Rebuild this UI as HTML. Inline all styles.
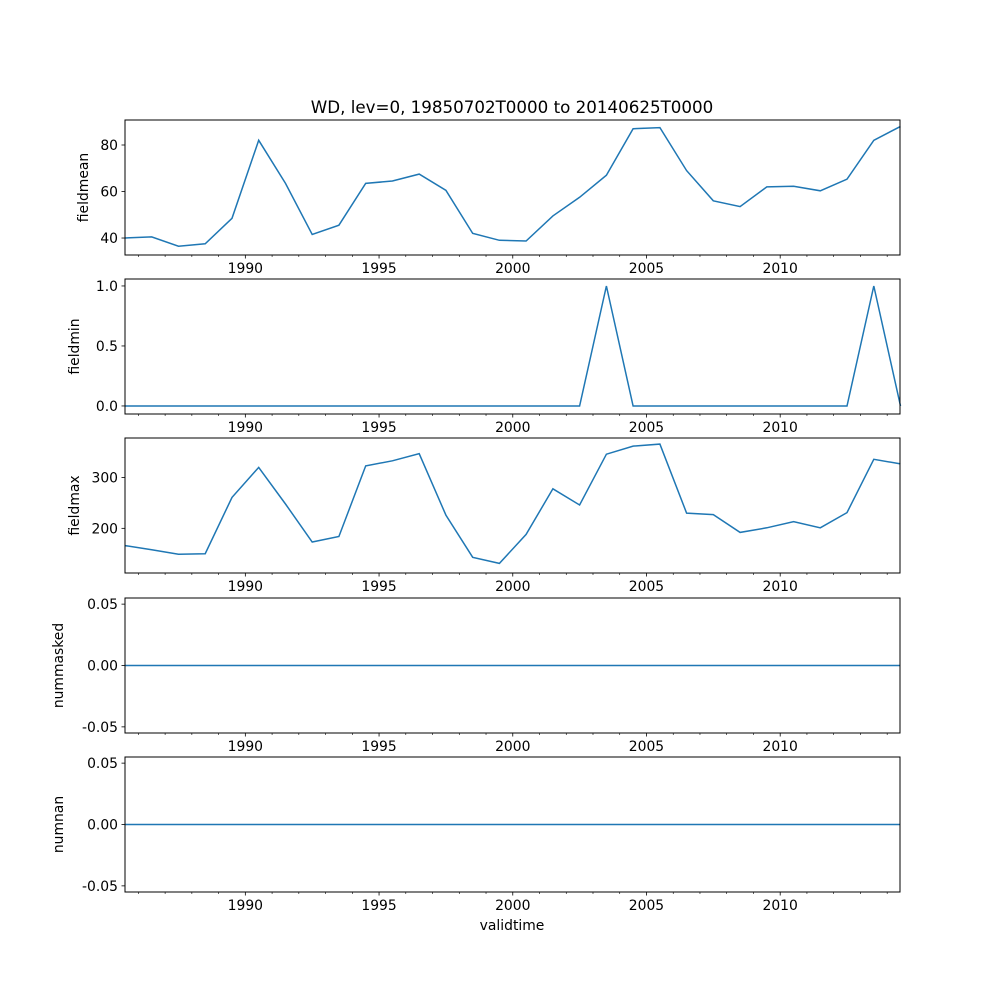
<!DOCTYPE html>
<html><head><meta charset="utf-8"><style>
body{margin:0;background:#fff;}
svg{display:block;font-family:"DejaVu Sans","Liberation Sans",sans-serif;}
</style></head><body>
<svg id="chart" width="1000" height="1000" viewBox="0 0 1000 1000" xmlns="http://www.w3.org/2000/svg">
<rect width="1000" height="1000" fill="#fff"/>
<text x="512" y="113" font-size="16.7" text-anchor="middle">WD, lev=0, 19850702T0000 to 20140625T0000</text>
<text x="512" y="930" font-size="13.9" text-anchor="middle">validtime</text>
</svg>
<script>
const years = [];
for (let y = 1985; y <= 2014; y++) years.push(y);
const fieldmean = [40,40.5,36.5,37.5,48.5,82,63.5,41.5,45.5,63.5,64.5,67.5,60.5,42,39,38.7,49.5,57.5,67,87,87.5,69,56,53.5,62,62.3,60.3,65.3,82,88];
const fieldmin = [0,0,0,0,0,0,0,0,0,0,0,0,0,0,0,0,0,0,1,0,0,0,0,0,0,0,0,0,1,0];
const fieldmax = [166,158,149,150,261,320,248,173,184,323,333,347,226,143,131,188,278,246,346,362,366,230,227,192,201,213,201,231,336,327];
const nummasked = years.map(()=>0);
const numnan = years.map(()=>0);
const xTickLabels = [1990,1995,2000,2005,2010];

const svg = document.getElementById('chart');
const NS = 'http://www.w3.org/2000/svg';
const X0 = 125, X1 = 900, T0 = 1985.5, T1 = 2014.48;
function xs(t){ return X0 + (t - T0) / (T1 - T0) * (X1 - X0); }
function mk(tag, attrs){ const e = document.createElementNS(NS, tag); for (const k in attrs) e.setAttribute(k, attrs[k]); svg.appendChild(e); return e; }

const panels = [
  {name:'fieldmean', data:fieldmean, top:120, bot:255, ymin:32.7, ymax:90.75, ticks:[40,60,80], fmt:v=>String(v)},
  {name:'fieldmin', data:fieldmin, top:279, bot:414, ymin:-0.067, ymax:1.058, ticks:[0,0.5,1], fmt:v=>v.toFixed(1)},
  {name:'fieldmax', data:fieldmax, top:438, bot:573, ymin:112, ymax:378, ticks:[200,300], fmt:v=>String(v)},
  {name:'nummasked', data:nummasked, top:598, bot:733, ymin:-0.055, ymax:0.055, ticks:[-0.05,0,0.05], fmt:v=>v.toFixed(2)},
  {name:'numnan', data:numnan, top:757, bot:892, ymin:-0.055, ymax:0.055, ticks:[-0.05,0,0.05], fmt:v=>v.toFixed(2)}
];

panels.forEach(p=>{
  const ys = v => p.bot - (v - p.ymin) / (p.ymax - p.ymin) * (p.bot - p.top);
  const pts = p.data.map((v,i)=>xs(years[i]+0.5).toFixed(1)+','+ys(v).toFixed(1)).join(' ');
  const line = mk('polyline',{points:pts,fill:'none',stroke:'#1f77b4','stroke-width':1.5});
  
  
  const frame = mk('rect',{x:X0,y:p.top,width:X1-X0,height:p.bot-p.top,fill:'none',stroke:'#000','stroke-width':1});
  
  
  p.ticks.forEach(v=>{
    const y = ys(v);
    mk('line',{x1:X0-3.5,x2:X0,y1:y,y2:y,stroke:'#000','stroke-width':0.8});
    const t = mk('text',{x:X0-7,y:y+5,'font-size':13.9,'text-anchor':'end'});
    t.textContent = p.fmt(v);
    
    
  });
  for (let yr = 1986; yr <= 2014; yr++){
    const x = xs(yr);
    const major = yr % 5 === 0;
    mk('line',{x1:x,x2:x,y1:p.bot,y2:p.bot+(major?3.5:2),stroke:'#000','stroke-width':major?0.8:0.6});
  }
  xTickLabels.forEach(yr=>{
    const t = mk('text',{x:xs(yr),y:p.bot+18,'font-size':13.9,'text-anchor':'middle'});
    t.textContent = yr;
    
    
  });
  const cy = (p.top+p.bot)/2;
  const lx = p.name==='fieldmean'?88:(p.name==='fieldmin'||p.name==='fieldmax'?79:63);
  const lab = mk('text',{x:lx,y:cy,'font-size':13.9,'text-anchor':'middle',transform:`rotate(-90 ${lx} ${cy})`});
  lab.textContent = p.name;
  
  
});
</script>
</body></html>
